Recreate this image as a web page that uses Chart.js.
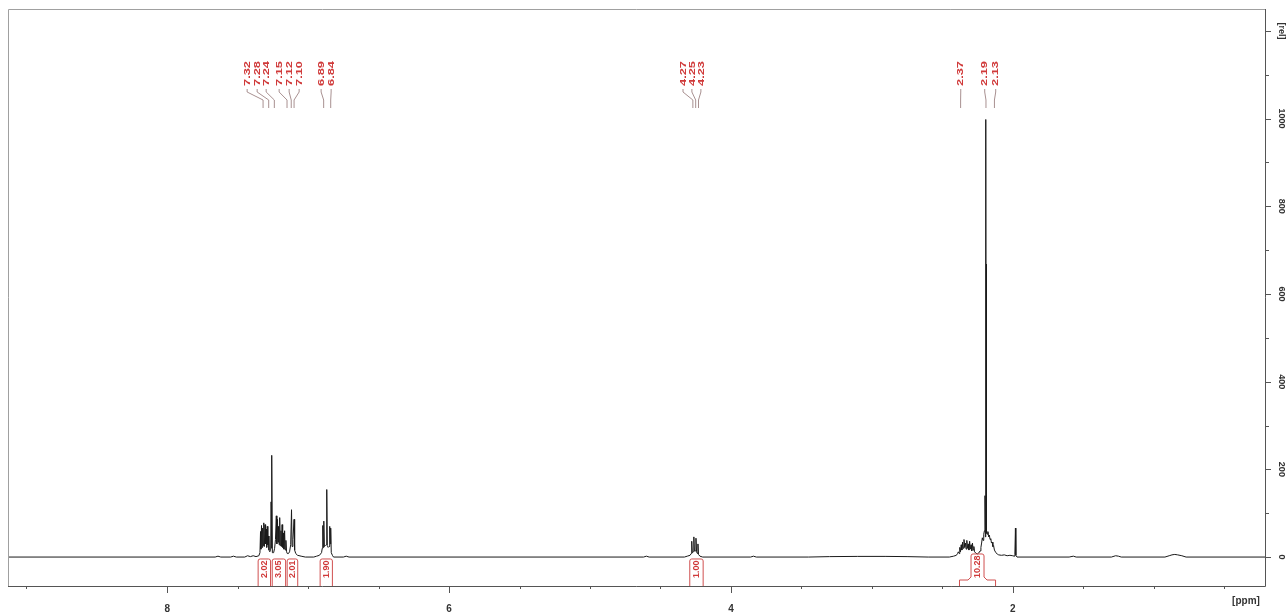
<!DOCTYPE html>
<html>
<head>
<meta charset="utf-8">
<title>1H NMR</title>
<script src="https://cdn.jsdelivr.net/npm/chart.js@4.4.1/dist/chart.umd.min.js"></script>
<style>
  html, body { margin: 0; padding: 0; background: #fff; }
  #wrap { width: 1288px; height: 612px; position: relative; }
</style>
</head>
<body>
<div id="wrap"><canvas id="spec"></canvas></div>
<script>
// spectrum trace: chemical shift (ppm) and relative intensity
const ppm = [
  9.13, 7.66, 7.64, 7.62, 7.55, 7.53, 7.51, 7.45, 7.43, 7.41, 7.39, 7.37, 7.35,
  // 7.3 multiplet
  7.342, 7.338, 7.335, 7.331, 7.327, 7.323, 7.319, 7.315, 7.311, 7.306, 7.302, 7.298, 7.294, 7.290, 7.286, 7.282, 7.278, 7.272, 7.266, 7.263, 7.260, 7.257, 7.254,
  7.245, 7.238, 7.232, 7.226, 7.222, 7.218, 7.214, 7.210, 7.206, 7.202, 7.198, 7.193, 7.189, 7.185, 7.181, 7.176, 7.172, 7.167, 7.163, 7.158, 7.153, 7.148,
  7.140, 7.132, 7.124, 7.118, 7.114, 7.108, 7.100, 7.096, 7.088, 7.075, 7.05, 7.02,
  6.96, 6.94, 6.92,
  // 6.86 doublet
  6.905, 6.900, 6.896, 6.893, 6.889, 6.885, 6.879, 6.873, 6.868, 6.864, 6.858, 6.852, 6.847, 6.843, 6.840, 6.836, 6.828, 6.82,
  6.75, 6.73, 6.71,
  // 4.25 quartet
  4.62, 4.60, 4.58, 4.33, 4.31, 4.29, 4.282, 4.278, 4.274, 4.267, 4.263, 4.259, 4.252, 4.248, 4.244, 4.238, 4.234, 4.230, 4.22, 4.20,
  3.86, 3.84, 3.82, 3.45, 3.3, 3.1, 2.9, 2.75, 2.6,
  // 2.2 region
  2.45, 2.42, 2.40, 2.392, 2.386, 2.381, 2.376, 2.371, 2.366, 2.361, 2.356, 2.351, 2.346, 2.341, 2.336, 2.331, 2.326, 2.321, 2.316, 2.311,
  2.306, 2.301, 2.296, 2.291, 2.286, 2.281, 2.276, 2.271, 2.262, 2.252, 2.242, 2.232, 2.226, 2.221, 2.216, 2.211, 2.206, 2.201, 2.197, 2.194,
  2.1915, 2.189, 2.1875, 2.185, 2.180, 2.176, 2.171, 2.166, 2.161, 2.156, 2.151, 2.146, 2.141, 2.136, 2.13, 2.12, 2.11, 2.10, 2.08, 2.06,
  2.04, 2.02, 2.00, 1.99, 1.985, 1.981, 1.978, 1.97,
  1.60, 1.57, 1.55, 1.30, 1.27, 1.25, 1.23, 0.92, 0.89, 0.87, 0.85, 0.83, 0.80, 0.77, 0.21
];
const rel = [
  0, 0, 2, 0, 0, 2, 0, 0, 3, 1, 3, 1, 3,
  10, 58, 18, 72, 22, 66, 26, 78, 24, 74, 30, 64, 22, 70, 28, 48, 16, 12, 18, 126, 20, 232, 10,
  10, 20, 40, 94, 30, 86, 34, 70, 28, 90, 26, 60, 24, 74, 22, 55, 18, 60, 16, 38, 12, 8,
  8, 12, 28, 108, 24, 40, 86, 16, 8, 4, 2, 0,
  0, 2, 4,
  10, 20, 72, 22, 82, 24, 26, 28, 154, 26, 22, 24, 70, 30, 66, 10, 4, 0,
  0, 2, 0,
  0, 2, 0, 0, 2, 4, 8, 36, 10, 12, 46, 14, 14, 43, 12, 8, 30, 6, 2, 0,
  0, 2, 0, 0, 1, 1.5, 1.5, 1, 0,
  0, 2, 4, 8, 12, 8, 22, 12, 28, 16, 34, 20, 40, 22, 32, 18, 38, 20, 30, 16,
  36, 18, 28, 14, 32, 16, 24, 12, 9, 7, 9, 14, 22, 32, 44, 38, 52, 60, 140, 46,
  998, 54, 668, 60, 52, 58, 46, 50, 40, 42, 32, 34, 24, 26, 16, 10, 7, 5, 4, 5,
  3, 4, 3, 2, 6, 66, 4, 0,
  0, 2, 0, 0, 3, 2, 0, 0, 3, 5, 6, 5, 3, 0, 0
];

// peak picking labels (top) and where the label text sits
const peakLabels = ['7.32', '7.28', '7.24', '7.15', '7.12', '7.10', '6.89', '6.84', '4.27', '4.25', '4.23', '2.37', '2.19', '2.13'];
const peakShift = [7.32, 7.28, 7.24, 7.15, 7.12, 7.10, 6.89, 6.84, 4.27, 4.25, 4.23, 2.37, 2.19, 2.13];
const labelShift = [7.433, 7.362, 7.298, 7.206, 7.135, 7.064, 6.908, 6.837, 4.340, 4.277, 4.213, 2.369, 2.199, 2.121];

// integrals
const intFrom = [7.355, 7.255, 7.149, 6.915, 4.292, 2.378];
const intTo = [7.267, 7.160, 7.074, 6.828, 4.197, 2.122];
const intLabels = ['2.02', '3.05', '2.01', '1.90', '1.00', '10.28'];

// axis ticks
const xTickValues = [8, 6, 4, 2];
const xTickLabels = ['8', '6', '4', '2'];
const xMinorTicks = [9, 7.5, 7, 6.5, 5.5, 5, 4.5, 3.5, 3, 2.5, 1.5, 1, 0.5];
const yTickValues = [0, 200, 400, 600, 800, 1000, 1200];
const yTickLabels = ['0', '200', '400', '600', '800', '1000', '[rel]'];
const yMinorTicks = [100, 300, 500, 700, 900, 1100];

const FONT = "'Liberation Sans', Arial, sans-serif";
const RED = '#d03a3a';

const nmrDecor = {
  id: 'nmrDecor',
  afterDraw(chart) {
    const {ctx, chartArea: a, scales: {x, y}} = chart;
    ctx.save();
    ctx.lineWidth = 1;

    // frame
    ctx.strokeStyle = '#a0a0a0';
    ctx.beginPath();
    ctx.moveTo(a.left + 0.5, a.bottom);
    ctx.lineTo(a.left + 0.5, a.top + 0.5);
    ctx.lineTo(a.right, a.top + 0.5);
    ctx.stroke();
    ctx.strokeStyle = '#555';
    ctx.beginPath();
    ctx.moveTo(a.left, a.bottom + 0.5);
    ctx.lineTo(a.right + 0.5, a.bottom + 0.5);
    ctx.lineTo(a.right + 0.5, a.top);
    ctx.stroke();

    // x ticks
    ctx.beginPath();
    xTickValues.forEach(v => {
      const px = Math.round(x.getPixelForValue(v)) + 0.5;
      ctx.moveTo(px, a.bottom); ctx.lineTo(px, a.bottom + 7);
    });
    xMinorTicks.forEach(v => {
      const px = Math.round(x.getPixelForValue(v)) + 0.5;
      ctx.moveTo(px, a.bottom); ctx.lineTo(px, a.bottom + 3);
    });
    // y ticks
    yTickValues.forEach(v => {
      const py = Math.round(y.getPixelForValue(v)) + 0.5;
      ctx.moveTo(a.right, py); ctx.lineTo(a.right + 6, py);
    });
    yMinorTicks.forEach(v => {
      const py = Math.round(y.getPixelForValue(v)) + 0.5;
      ctx.moveTo(a.right, py); ctx.lineTo(a.right + 4, py);
    });
    ctx.stroke();

    // y labels, turned clockwise
    ctx.fillStyle = '#333';
    ctx.font = 'bold 9px ' + FONT;
    ctx.textAlign = 'center';
    ctx.textBaseline = 'middle';
    yTickValues.forEach((v, i) => {
      ctx.save();
      ctx.translate(a.right + 16, y.getPixelForValue(v));
      ctx.rotate(Math.PI / 2);
      ctx.fillText(yTickLabels[i], 0, 0);
      ctx.restore();
    });
    ctx.font = 'bold 10px ' + FONT;
    ctx.fillText('[ppm]', a.right - 19, a.bottom + 15);

    // peak labels with their leader lines
    ctx.strokeStyle = '#a89090';
    peakLabels.forEach((lab, i) => {
      const lx = x.getPixelForValue(labelShift[i]);
      const px = x.getPixelForValue(peakShift[i]);
      ctx.beginPath();
      ctx.moveTo(lx, 89); ctx.lineTo(lx, 92);
      ctx.lineTo(px, 100); ctx.lineTo(px, 108);
      ctx.stroke();
      ctx.save();
      ctx.translate(lx, 86);
      ctx.rotate(-Math.PI / 2);
      ctx.scale(1.35, 1);
      ctx.fillStyle = RED;
      ctx.font = 'bold 9.5px ' + FONT;
      ctx.textAlign = 'left';
      ctx.textBaseline = 'middle';
      ctx.fillText(lab, 0, 0);
      ctx.restore();
    });

    // integral brackets
    ctx.strokeStyle = '#d05050';
    ctx.fillStyle = RED;
    ctx.font = 'bold 9px ' + FONT;
    intLabels.forEach((lab, i) => {
      const L = x.getPixelForValue(intFrom[i]);
      const R = x.getPixelForValue(intTo[i]);
      const c = (L + R) / 2;
      const len = ctx.measureText(lab).width;
      const base = 578;
      const top = base - len - 1.5;
      ctx.beginPath();
      if (R - L <= 16) {
        ctx.moveTo(L, a.bottom);
        ctx.lineTo(L, top + 2);
        ctx.quadraticCurveTo(L, top, L + 2, top);
        ctx.lineTo(R - 2, top);
        ctx.quadraticCurveTo(R, top, R, top + 2);
        ctx.lineTo(R, a.bottom);
      } else {
        const bl = c - 6.5, br = c + 6.5;
        ctx.moveTo(L, a.bottom);
        ctx.lineTo(L, 580);
        ctx.lineTo(bl - 3, 580);
        ctx.lineTo(bl, 577);
        ctx.lineTo(bl, top + 2);
        ctx.quadraticCurveTo(bl, top, bl + 2, top);
        ctx.lineTo(br - 2, top);
        ctx.quadraticCurveTo(br, top, br, top + 2);
        ctx.lineTo(br, 577);
        ctx.lineTo(br + 3, 580);
        ctx.lineTo(R, 580);
        ctx.lineTo(R, a.bottom);
      }
      ctx.stroke();
      ctx.save();
      ctx.translate(c, base);
      ctx.rotate(-Math.PI / 2);
      ctx.textAlign = 'left';
      ctx.textBaseline = 'middle';
      ctx.fillText(lab, 0, 0);
      ctx.restore();
    });

    ctx.restore();
  }
};

const ctx = document.getElementById('spec').getContext('2d');
const myChart = new Chart(ctx, {
  type: 'line',
  data: {
    datasets: [{
      data: ppm.map((p, i) => ({x: p, y: rel[i]})),
      borderColor: '#1a1a1a',
      borderWidth: 1,
      pointRadius: 0,
      tension: 0,
      fill: false
    }]
  },
  options: {
    responsive: true,
    maintainAspectRatio: false,
    animation: false,
    events: [],
    layout: { padding: { left: 8, top: 9, right: 0, bottom: 0 } },
    plugins: { legend: { display: false }, tooltip: { enabled: false } },
    scales: {
      x: {
        type: 'linear',
        reverse: true,
        min: 0.21,
        max: 9.13,
        grid: { display: false },
        border: { display: false },
        afterBuildTicks: s => { s.ticks = xTickValues.map(v => ({value: v})); },
        afterFit: s => { s.height = 26; },
        ticks: {
          autoSkip: false,
          maxRotation: 0,
          minRotation: 0,
          padding: 9,
          color: '#333',
          font: { family: FONT, size: 10, weight: 'bold' },
          callback: v => {
            const i = xTickValues.indexOf(v);
            return i >= 0 ? xTickLabels[i] : '';
          }
        }
      },
      y: {
        position: 'right',
        min: -66,
        max: 1250,
        grid: { display: false },
        border: { display: false },
        ticks: { display: false },
        afterFit: s => { s.width = 23; }
      }
    }
  },
  plugins: [nmrDecor]
});
</script>
</body>
</html>
